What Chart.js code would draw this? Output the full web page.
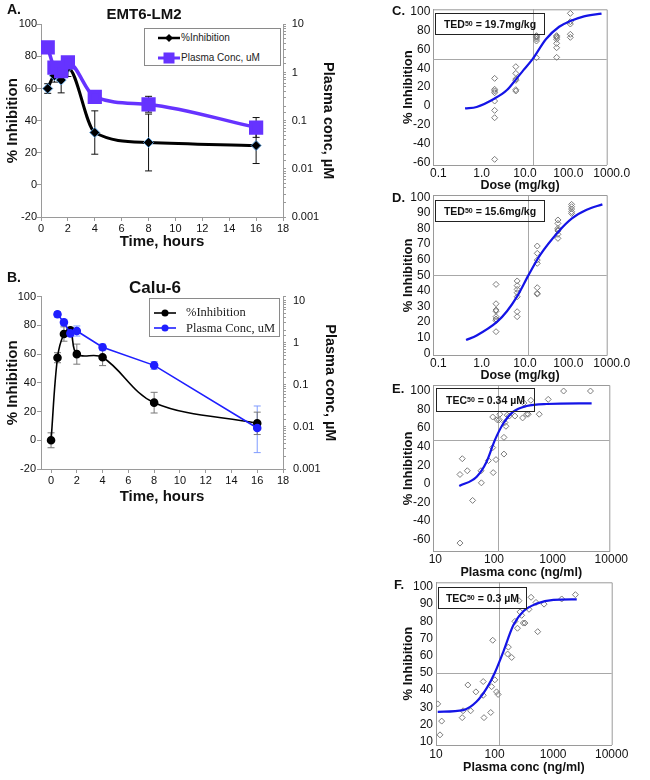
<!DOCTYPE html>
<html>
<head>
<meta charset="utf-8">
<title>PK/PD panels</title>
<script src="https://cdn.jsdelivr.net/npm/chart.js@4.4.1/dist/chart.umd.min.js"></script>
<style>
  html, body { margin: 0; padding: 0; background: #fff; }
  #page { position: relative; width: 650px; height: 780px; overflow: hidden; font-family: "Liberation Sans", Arial, sans-serif; color: #111; }
  #page canvas { position: absolute; }
  .txt { position: absolute; font-weight: bold; line-height: 1; white-space: nowrap; }
  .legend { position: absolute; box-sizing: border-box; border: 1px solid #8a8a8a; background: #fff; }
  .legend svg, .legend span { position: absolute; }
  .legend span { line-height: 1; white-space: nowrap; color: #222; }
  .ted { position: absolute; box-sizing: border-box; border: 1.5px solid #222; display: flex; align-items: center; justify-content: center; font-weight: bold; font-size: 10.5px; white-space: nowrap; }
  .ted sub { font-size: 7px; vertical-align: -2px; line-height: 0; }
</style>
</head>
<body>
<div id="page">
  <canvas id="chartA"></canvas>
  <canvas id="chartB"></canvas>
  <canvas id="chartC"></canvas>
  <canvas id="chartD"></canvas>
  <canvas id="chartE"></canvas>
  <canvas id="chartF"></canvas>

  <div class="txt" style="left:7px;top:2px;font-size:14px">A.</div>
  <div class="txt" style="left:84px;top:5.5px;width:120px;text-align:center;font-size:15px">EMT6-LM2</div>
  <div class="txt" style="left:7px;top:270px;font-size:14px">B.</div>
  <div class="txt" style="left:95px;top:278.5px;width:120px;text-align:center;font-size:17px">Calu-6</div>
  <div class="txt" style="left:392px;top:3.5px;font-size:13px">C.</div>
  <div class="txt" style="left:392px;top:191px;font-size:13px">D.</div>
  <div class="txt" style="left:392px;top:381.5px;font-size:13px">E.</div>
  <div class="txt" style="left:394px;top:577.5px;font-size:13px">F.</div>

  <div class="legend" style="left:144px;top:28px;width:137px;height:38px;font-size:10px">
    <svg style="left:13px;top:3px" width="22" height="12"><line x1="0" y1="6" x2="22" y2="6" stroke="#000" stroke-width="2.5"/><polygon points="11,2 15,6 11,10 7,6" fill="#000"/></svg>
    <span style="left:36px;top:4px">%Inhibition</span>
    <svg style="left:13px;top:23px" width="22" height="12"><line x1="0" y1="6" x2="22" y2="6" stroke="#6633ff" stroke-width="3"/><rect x="5.5" y="0.5" width="11" height="11" fill="#6633ff"/></svg>
    <span style="left:36px;top:24px">Plasma Conc, uM</span>
  </div>

  <div class="legend" style="left:149px;top:298px;width:131px;height:39px;font-family:'Liberation Serif','Times New Roman',serif;font-size:12.5px">
    <svg style="left:4px;top:7.5px" width="22" height="12"><line x1="0" y1="6" x2="22" y2="6" stroke="#000" stroke-width="1.6"/><circle cx="11" cy="6" r="3.5" fill="#000"/></svg>
    <span style="left:36px;top:7px">%Inhibition</span>
    <svg style="left:4px;top:23px" width="22" height="12"><line x1="0" y1="6" x2="22" y2="6" stroke="#1f1fff" stroke-width="1.6"/><circle cx="11" cy="6" r="3.5" fill="#1f1fff"/></svg>
    <span style="left:36px;top:22.5px">Plasma Conc, uM</span>
  </div>

  <div class="ted" style="left:435px;top:13px;width:110px;height:22px">TED<sub>50</sub>&nbsp;= 19.7mg/kg</div>
  <div class="ted" style="left:435px;top:200px;width:110px;height:22px">TED<sub>50</sub>&nbsp;= 15.6mg/kg</div>
  <div class="ted" style="left:436px;top:388px;width:99px;height:23.5px">TEC<sub>50</sub>&nbsp;= 0.34 µM</div>
  <div class="ted" style="left:438px;top:587px;width:89px;height:21.5px">TEC<sub>50</sub>&nbsp;= 0.3 µM</div>
</div>

<script>
Chart.defaults.font.family = '"Liberation Sans", Arial, sans-serif';
Chart.defaults.color = "#111";

// A. EMT6-LM2 time course
const timeA = [0.5, 1, 1.5, 2, 4, 8, 16];
const inhibA = [60, 68, 65.3, 73, 32.6, 26.4, 24.5];
const inhibErrA = [3, 4, 8, 5.5, 13.5, 17.7, 11.2];
const plasmaA = [3.3, 1.26, 1.07, 1.62, 0.31, 0.217, 0.072];
const plasmaLowA = [3.0, 1.1, 0.9, 1.4, 0.23, 0.15, 0.045];
const plasmaHighA = [3.6, 1.45, 1.25, 2.06, 0.41, 0.32, 0.116];

// B. Calu-6 time course
const timeB = [0, 0.5, 1, 1.5, 2, 4, 8, 16];
const inhibB = [0, 57.5, 74, 76.6, 60, 57.8, 26.2, 11.8];
const inhibErrB = [5.2, 3.5, 5, 2, 7, 5.8, 7.2, 7.8];
const timePlasmaB = [0.5, 1, 1.5, 2, 4, 8, 16];
const plasmaB = [4.73, 3.05, 1.67, 1.9, 0.78, 0.29, 0.0094];
const plasmaLowB = [4.02, 2.6, 1.4, 1.44, 0.65, 0.233, 0.00245];
const plasmaHighB = [5.48, 3.6, 2.01, 2.5, 0.93, 0.355, 0.0314];

const timeTicks = [0, 2, 4, 6, 8, 10, 12, 14, 16, 18];
const inhibTicksAB = [-20, 0, 20, 40, 60, 80, 100];
const plasmaTicks = [0.001, 0.01, 0.1, 1, 10];
const plasmaTickLabels = ["0.001", "0.01", "0.1", "1", "10"];

// C. dose response (TED50 19.7 mg/kg)
const doseC = [2.6, 8, 24, 70, 145];
const inhibByDoseC = [
  [29.3, 17.7, 16, 14.1, 5.3, -4.6, -12.4, -56.5],
  [41.7, 34.6, 28.6, 27.2, 17.3, 15.9],
  [74.6, 73.5, 72.8, 71, 68.9, 51.2],
  [74.6, 73.5, 72.4, 70.7, 66.4, 61.8, 51.6],
  [98.2, 89.4, 86.9, 76, 72.8],
];
const fitDoseC = [0.54, 1, 2.6, 5, 8, 12, 19.7, 40, 80, 145, 300, 760];
const fitInhibC = [-2.5, -1, 8, 17, 28, 38, 50, 71, 84, 90, 95, 98];
const tedC = 19.7;

// D. dose response (TED50 15.6 mg/kg)
const doseD = [2.8, 8.6, 25, 75, 155];
const inhibByDoseD = [
  [44.2, 31.8, 27.8, 27, 23.5, 22, 21, 13.9],
  [46.4, 43.4, 41, 38.9, 36.3, 26.7, 23.5],
  [68.8, 64.1, 59.8, 57.7, 42.1, 38.5, 38],
  [85.5, 83.3, 80.1, 79.1, 78.5, 76.3, 73.7],
  [95.5, 94, 92.5, 90.8, 89.7],
];
const fitDoseD = [0.57, 1, 2.9, 5, 8.8, 15.6, 29, 77, 158, 345, 795];
const fitInhibD = [8.5, 11.5, 20, 27, 37, 50, 63, 78, 86.5, 92, 95.5];
const tedD = 15.6;

// E. concentration response (TEC50 0.34 uM)
const concE = [28.5, 31.2, 38, 46.8, 28.5, 65, 66, 87, 103, 103, 105, 117, 123, 133, 136, 160, 160, 166, 173, 182, 197, 246, 333, 350, 390, 415, 460, 640, 910, 1665, 4775];
const inhibE = [10, 27, 14, -18, -64, 14, 1, 25, 72, 39, 12, 26, 69, 69, 75, 50, 32, 66, 62, 74, 73, 73, 71, 87, 75, 75, 90, 75, 91, 100, 100];
const fitConcE = [27.7, 55, 81, 112, 156, 231, 390, 855, 5000];
const fitInhibE = [-2.5, 7.6, 23.7, 47, 65, 77.7, 83.8, 86, 86.7];
const tecE = 128;
const midE = 47;

// F. concentration response (TEC50 0.3 uM)
const concF = [10.7, 11.7, 12.5, 28, 29, 35, 39, 48, 64, 64, 66, 86, 89, 93, 101, 108, 115, 167, 172, 196, 223, 246, 261, 272, 290, 310, 330, 387, 420, 510, 545, 700, 1400, 2400];
const inhibF = [32, 14, 22, 24, 28, 43, 28, 39, 45, 37, 24, 27, 42, 69, 46, 39, 37.5, 61, 65, 59, 80, 76, 92, 85.5, 83.5, 79, 79, 87, 94, 91, 74, 90, 93, 95.5];
const fitConcF = [10.7, 29.3, 49, 73, 101.5, 141, 209, 310, 523, 1010, 2530];
const fitInhibF = [27.4, 28.4, 33.2, 41, 50.3, 62.3, 77.7, 85.9, 90.3, 92.5, 92.8];
const tecF = 119;

const doseTicks = [0.1, 1, 10, 100, 1000];
const doseTickLabels = ["0.1", "1.0", "10.0", "100.0", "1000.0"];
const concTicks = [10, 100, 1000, 10000];
const concTickLabels = ["10", "100", "1000", "10000"];
const inhibTicksC = [-60, -40, -20, 0, 20, 40, 60, 80, 100];
const inhibTicksD = [0, 10, 20, 30, 40, 50, 60, 70, 80, 90, 100];
const inhibTicksE = [-60, -40, -20, 0, 20, 40, 60, 80, 100];
const inhibTicksF = [10, 20, 30, 40, 50, 60, 70, 80, 90, 100];
const halfLevel = 50;

const pairs = (xs, ys) => xs.map((x, i) => ({ x, y: ys[i] }));
const grouped = (xs, groups) => xs.flatMap((x, i) => groups[i].map(y => ({ x, y })));
const setTicks = values => scale => { scale.ticks = values.map(value => ({ value })); };
const labelFor = (values, labels) => v => {
  const i = values.findIndex(t => Math.abs(t - v) <= Math.abs(t) * 1e-6);
  return i < 0 ? "" : labels[i];
};
const place = (id, box) => {
  const c = document.getElementById(id);
  c.width = box.w;
  c.height = box.h;
  c.style.left = box.x + "px";
  c.style.top = box.y + "px";
  return c;
};

// error bars drawn under the markers
const errorBars = {
  id: "errorBars",
  beforeDatasetsDraw(chart) {
    const { ctx, chartArea } = chart;
    chart.data.datasets.forEach((ds, i) => {
      if (!ds.errLow) return;
      const meta = chart.getDatasetMeta(i);
      const ys = chart.scales[meta.yAxisID];
      ctx.save();
      ctx.strokeStyle = ds.errColor;
      ctx.lineWidth = 1;
      meta.data.forEach((pt, j) => {
        const top = Math.max(ys.getPixelForValue(ds.errHigh[j]), chartArea.top);
        const bot = Math.min(ys.getPixelForValue(ds.errLow[j]), chartArea.bottom);
        ctx.beginPath();
        ctx.moveTo(pt.x, top);
        ctx.lineTo(pt.x, bot);
        ctx.moveTo(pt.x - 3.5, top);
        ctx.lineTo(pt.x + 3.5, top);
        ctx.moveTo(pt.x - 3.5, bot);
        ctx.lineTo(pt.x + 3.5, bot);
        ctx.stroke();
      });
      ctx.restore();
    });
  },
};

// 50% line and TED/TEC line
const refLines = {
  id: "refLines",
  beforeDatasetsDraw(chart, args, opts) {
    const { ctx, chartArea: a, scales } = chart;
    ctx.save();
    ctx.strokeStyle = "#a8a8a8";
    ctx.lineWidth = 1;
    ctx.beginPath();
    const px = Math.round(scales.x.getPixelForValue(opts.x)) + 0.5;
    const py = Math.round(scales.y.getPixelForValue(opts.y)) + 0.5;
    ctx.moveTo(px, a.top);
    ctx.lineTo(px, a.bottom);
    ctx.moveTo(a.left, py);
    ctx.lineTo(a.right, py);
    ctx.stroke();
    // top and right edges of the frame
    ctx.strokeStyle = "#9a9a9a";
    ctx.beginPath();
    ctx.moveTo(a.left, a.top + 0.5);
    ctx.lineTo(a.right + 0.5, a.top + 0.5);
    ctx.lineTo(a.right + 0.5, a.bottom);
    ctx.stroke();
    ctx.restore();
  },
};

function timePanel(id, g, datasets) {
  const { box, area } = g;
  const H = box.y + box.h;
  const W = box.x + box.w;
  return new Chart(place(id, box), {
    type: "scatter",
    data: { datasets },
    options: {
      responsive: false,
      animation: false,
      events: [],
      layout: { padding: { top: area.t - box.y, left: 0, right: 0, bottom: 0 } },
      plugins: { legend: { display: false }, tooltip: { enabled: false } },
      scales: {
        x: {
          type: "linear",
          min: g.xMin,
          max: 18,
          afterBuildTicks: setTicks(timeTicks),
          afterFit: s => { s.height = H - area.b; },
          grid: { drawOnChartArea: false, drawTicks: true, tickLength: 4, color: "#9a9a9a" },
          border: { color: "#9a9a9a" },
          ticks: { font: { size: 11, lineHeight: 1 }, padding: g.xTickY - area.b - 4 - 5.5, maxRotation: 0, autoSkip: false, callback: v => String(v) },
          title: { display: true, text: "Time, hours", font: { size: 15, weight: "bold", lineHeight: 1 }, padding: { top: 0, bottom: H - g.xTitleY - 7.5 } },
        },
        y: {
          type: "linear",
          position: "left",
          min: -20,
          max: 100,
          afterBuildTicks: setTicks(inhibTicksAB),
          afterFit: s => { s.width = area.l - box.x; },
          grid: { drawOnChartArea: false, drawTicks: true, tickLength: 4, color: "#9a9a9a" },
          border: { color: "#9a9a9a" },
          ticks: { font: { size: 11, lineHeight: 1 }, padding: area.l - 4 - g.yLabelRight, autoSkip: false, callback: v => String(v) },
          title: { display: true, text: "% Inhibition", font: { size: 15, weight: "bold", lineHeight: 1 }, padding: { top: g.yTitleX - box.x - 7.5, bottom: 0 } },
        },
        y2: {
          type: "logarithmic",
          position: "right",
          min: 0.001,
          max: g.y2Max,
          afterFit: s => { s.width = W - area.r; },
          grid: { drawOnChartArea: false, drawTicks: true, tickLength: 3, color: "#9a9a9a" },
          border: { color: "#9a9a9a" },
          ticks: { font: { size: 11, lineHeight: 1 }, padding: g.y2LabelLeft - area.r - 3, autoSkip: false, callback: labelFor(plasmaTicks, plasmaTickLabels) },
          title: { display: true, text: "Plasma conc, µM", font: { size: 14.5, weight: "bold", lineHeight: 1 }, padding: { top: W - g.y2TitleX - 7.25, bottom: 0 } },
        },
      },
    },
    plugins: [errorBars],
  });
}

function responsePanel(id, g, p) {
  const { box, area } = g;
  const H = box.y + box.h;
  return new Chart(place(id, box), {
    type: "scatter",
    data: {
      datasets: [
        { data: p.curve, showLine: true, borderColor: "#1414e6", borderWidth: 2.2, pointRadius: 0, cubicInterpolationMode: "monotone", order: 0 },
        { data: p.points, pointStyle: "rectRot", pointRadius: 3, pointBorderColor: "#7c7c7c", pointBackgroundColor: "rgba(255,255,255,0)", pointBorderWidth: 1, order: 1 },
      ],
    },
    options: {
      responsive: false,
      animation: false,
      events: [],
      layout: { padding: { top: area.t - box.y, right: box.x + box.w - area.r, left: 0, bottom: 0 } },
      plugins: { legend: { display: false }, tooltip: { enabled: false }, refLines: { x: p.refX, y: p.refY } },
      scales: {
        x: {
          type: "logarithmic",
          min: p.xTicks[0],
          max: p.xTicks[p.xTicks.length - 1],
          afterBuildTicks: setTicks(p.xTicks),
          afterFit: s => { s.height = H - area.b; },
          grid: { display: false, drawTicks: false },
          border: { color: "#9a9a9a" },
          ticks: { font: { size: 12, lineHeight: 1 }, padding: g.xTickY - area.b - 6, labelOffset: p.labelOffset, maxRotation: 0, autoSkip: false, callback: labelFor(p.xTicks, p.xLabels) },
          title: { display: true, text: p.xTitle, font: { size: 12.5, weight: "bold", lineHeight: 1 }, padding: { top: 0, bottom: H - g.xTitleY - 6.25 } },
        },
        y: {
          type: "linear",
          min: p.yMin,
          max: p.yMax,
          afterBuildTicks: setTicks(p.yTicks),
          afterFit: s => { s.width = area.l - box.x; },
          grid: { display: false, drawTicks: false },
          border: { color: "#9a9a9a" },
          ticks: { font: { size: 12, lineHeight: 1 }, padding: 3, autoSkip: false, callback: v => String(v) },
          title: { display: true, text: "% Inhibition", font: { size: 13, weight: "bold", lineHeight: 1 }, padding: { top: g.yTitleX - box.x - 6.5, bottom: 0 } },
        },
      },
    },
    plugins: [refLines],
  });
}

timePanel("chartA",
  { box: { x: 0, y: 0, w: 345, h: 252 }, area: { l: 41, t: 24.3, r: 283, b: 217 }, xMin: 0, y2Max: 10,
    xTickY: 228.5, xTitleY: 242, yTitleX: 13, y2TitleX: 328, yLabelRight: 37, y2LabelLeft: 291.7 },
  [
    { label: "Plasma Conc, uM", data: pairs(timeA, plasmaA), yAxisID: "y2", showLine: true, order: 0,
      borderColor: "#6633ff", borderWidth: 3.5, cubicInterpolationMode: "monotone",
      pointStyle: "rect", pointRadius: 7.6, pointBackgroundColor: "#6633ff", pointBorderColor: "#6633ff",
      errLow: plasmaLowA, errHigh: plasmaHighA, errColor: "#111" },
    { label: "%Inhibition", data: pairs(timeA, inhibA), yAxisID: "y", showLine: true, order: 1,
      borderColor: "#000", borderWidth: 3, cubicInterpolationMode: "monotone",
      pointStyle: "rectRot", pointRadius: 5, pointBackgroundColor: "#000", pointBorderColor: "#5b9bd5", pointBorderWidth: 1,
      errLow: inhibA.map((v, i) => v - inhibErrA[i]), errHigh: inhibA.map((v, i) => v + inhibErrA[i]), errColor: "#111" },
  ]);

timePanel("chartB",
  { box: { x: 0, y: 262, w: 345, h: 252 }, area: { l: 41, t: 296.7, r: 283, b: 469 }, xMin: -0.78, y2Max: 12.4,
    xTickY: 480.7, xTitleY: 496.7, yTitleX: 13.3, y2TitleX: 330, yLabelRight: 36, y2LabelLeft: 293 },
  [
    { label: "Plasma Conc, uM", data: pairs(timePlasmaB, plasmaB), yAxisID: "y2", showLine: true, order: 0,
      borderColor: "#1f1fff", borderWidth: 1.6, tension: 0,
      pointStyle: "circle", pointRadius: 3.5, pointBackgroundColor: "#1f1fff", pointBorderColor: "#1f1fff",
      errLow: plasmaLowB, errHigh: plasmaHighB, errColor: "#7f9bff" },
    { label: "%Inhibition", data: pairs(timeB, inhibB), yAxisID: "y", showLine: true, order: 1,
      borderColor: "#000", borderWidth: 1.6, tension: 0.35,
      pointStyle: "circle", pointRadius: 3.5, pointBackgroundColor: "#000", pointBorderColor: "#000",
      errLow: inhibB.map((v, i) => v - inhibErrB[i]), errHigh: inhibB.map((v, i) => v + inhibErrB[i]), errColor: "#777" },
  ]);

responsePanel("chartC",
  { box: { x: 385, y: 0, w: 265, h: 196 }, area: { l: 433.3, t: 9.3, r: 606.7, b: 165 }, xTickY: 173.5, xTitleY: 186, yTitleX: 408 },
  { points: grouped(doseC, inhibByDoseC), curve: pairs(fitDoseC, fitInhibC), refX: tedC, refY: halfLevel,
    xTicks: doseTicks, xLabels: doseTickLabels, xTitle: "Dose (mg/kg)", labelOffset: 5,
    yMin: -62.5, yMax: 102.5, yTicks: inhibTicksC });

responsePanel("chartD",
  { box: { x: 385, y: 185, w: 265, h: 200 }, area: { l: 433.3, t: 195, r: 606.7, b: 355.7 }, xTickY: 364, xTitleY: 376, yTitleX: 408 },
  { points: grouped(doseD, inhibByDoseD), curve: pairs(fitDoseD, fitInhibD), refX: tedD, refY: halfLevel,
    xTicks: doseTicks, xLabels: doseTickLabels, xTitle: "Dose (mg/kg)", labelOffset: 5,
    yMin: -1.5, yMax: 101.5, yTicks: inhibTicksD });

responsePanel("chartE",
  { box: { x: 385, y: 375, w: 265, h: 207 }, area: { l: 433.3, t: 385, r: 609.3, b: 551.7 }, xTickY: 560, xTitleY: 573, yTitleX: 408 },
  { points: pairs(concE, inhibE), curve: pairs(fitConcE, fitInhibE), refX: tecE, refY: midE,
    xTicks: concTicks, xLabels: concTickLabels, xTitle: "Plasma conc (ng/ml)", labelOffset: 2,
    yMin: -73.3, yMax: 106.5, yTicks: inhibTicksE });

responsePanel("chartF",
  { box: { x: 385, y: 572, w: 265, h: 208 }, area: { l: 436, t: 582.3, r: 611.7, b: 745 }, xTickY: 755, xTitleY: 768, yTitleX: 408 },
  { points: pairs(concF, inhibF), curve: pairs(fitConcF, fitInhibF), refX: tecF, refY: halfLevel,
    xTicks: concTicks, xLabels: concTickLabels, xTitle: "Plasma conc (ng/ml)", labelOffset: 0,
    yMin: 8.1, yMax: 102.7, yTicks: inhibTicksF });
</script>
</body>
</html>
